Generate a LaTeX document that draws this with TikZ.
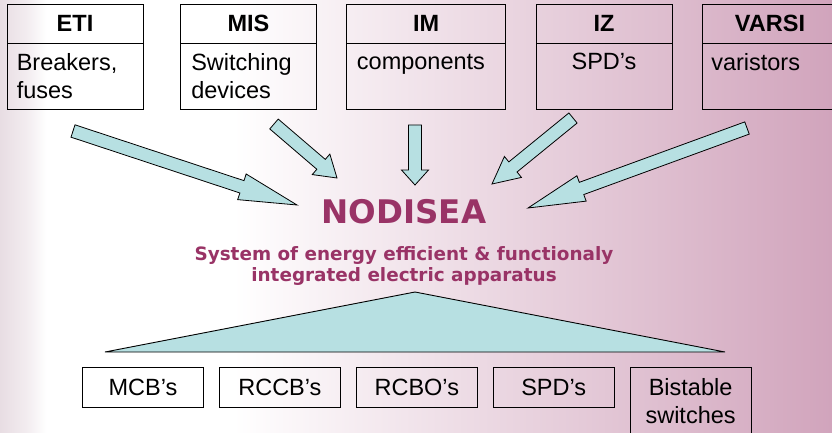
\documentclass[tikz,border=0pt]{standalone}
\usepackage{fontspec}
\setmainfont{Liberation Sans}
\newfontfamily\titlefont{DejaVu Sans}
\usetikzlibrary{calc,positioning}

\definecolor{arrowcyan}{RGB}{183,224,226}
\definecolor{titlepurple}{RGB}{153,51,102}
\definecolor{bgpink}{RGB}{209,164,188}
\definecolor{bgleft}{RGB}{232,221,227}

\pgfdeclarehorizontalshading{slidebg}{100bp}{color(0bp)=(bgleft); color(25bp)=(bgleft);
  color(26.6bp)=(bgleft!55!white); color(27.8bp)=(white); color(39bp)=(white);
  color(75bp)=(bgpink); color(100bp)=(bgpink)}

% block arrow: tail #1, tip #2, head length #3 (pt)
\newcommand{\fatarrow}[3]{%
  \coordinate (hbase) at ($(#2)!#3pt!(#1)$);
  \draw [fatarr] ($(#1)!6.5pt!90:(#2)$) -- ($(hbase)!6.5pt!90:(#2)$) -- ($(hbase)!13.5pt!90:(#2)$) -- (#2)
    -- ($(hbase)!13.5pt!-90:(#2)$) -- ($(hbase)!6.5pt!-90:(#2)$) -- ($(#1)!6.5pt!-90:(#2)$) -- cycle;
}

\begin{document}
\begin{tikzpicture}[x=1pt, y=-1pt,
    hdr/.style={draw, line width=0.9pt, minimum width=136pt, minimum height=39pt, inner sep=0pt,
      font=\fontsize{23.5}{28}\selectfont\bfseries},
    bbox/.style={draw, line width=0.9pt, minimum width=136pt, minimum height=66pt, inner sep=0pt},
    btxt/.style={inner sep=0pt, align=left, font=\fontsize{23.5}{28}\selectfont},
    item/.style={draw, line width=0.9pt, minimum width=121pt, minimum height=40pt, inner sep=0pt,
      align=center, font=\fontsize{23.5}{28}\selectfont},
    fatarr/.style={draw, line width=0.8pt, fill=arrowcyan, line join=miter},
    tri/.style={draw, line width=0.9pt, fill=arrowcyan}]

  \useasboundingbox (0,0) rectangle (832,433);
  \clip (0,0) rectangle (832,433);
  \shade [shading=slidebg] (0,0) rectangle (832,433);

  % top row
  \node [hdr] (eti) at (75,23.5) {ETI};
  \node [bbox, below=0pt of eti] (etib) {};
  \node [btxt, below right=9.5pt and 10pt of etib.north west] (etit) {Breakers,\\fuses};

  \node [hdr] (mis) at (248.5,23.5) {MIS};
  \node [bbox, below=0pt of mis] (misb) {};
  \node [btxt, below right=9.5pt and 11pt of misb.north west] (mist) {Switching\\devices};

  \node [hdr, minimum width=159pt] (im) at (426.2,23.5) {IM};
  \node [bbox, minimum width=159pt, below=0pt of im] (imb) {};
  \node [btxt, below right=9.5pt and 10.5pt of imb.north west] (imt) {\vphantom{B}components};

  \node [hdr] (iz) at (604,23.5) {IZ};
  \node [bbox, below=0pt of iz] (izb) {};
  \node [btxt, below=9.5pt of izb.north] (izt) {SPD’s};

  \node [hdr] (varsi) at (770,23.5) {VARSI};
  \node [bbox, below=0pt of varsi] (varsib) {};
  \node [btxt, below right=9.5pt and 9.5pt of varsib.north west] (varsit) {varistors};

  % centre
  \node [inner sep=0pt, text=titlepurple, font=\titlefont\fontsize{32.5}{36}\selectfont\bfseries]
    (nodisea) at (404,212) {NODISEA};
  \node [inner sep=0pt, text=titlepurple, align=center, below=22pt of nodisea,
    font=\titlefont\fontsize{18.4}{21}\selectfont\bfseries] (subtitle)
    {System of energy efficient \& functionaly\\integrated electric apparatus};

  % arrows
  \coordinate (t1) at (73,131);   \coordinate (h1) at (297,205);
  \coordinate (t2) at (274,124);  \coordinate (h2) at (337,178);
  \coordinate (t3) at (415,125);  \coordinate (h3) at (415,185);
  \coordinate (t4) at (573,118);  \coordinate (h4) at (492,184);
  \coordinate (t5) at (747,128);  \coordinate (h5) at (528,208);
  \fatarrow{t1}{h1}{58}
  \fatarrow{t2}{h2}{21}
  \fatarrow{t3}{h3}{15}
  \fatarrow{t4}{h4}{27}
  \fatarrow{t5}{h5}{57}

  % triangle
  \coordinate (apex) at (415,292);
  \coordinate (bl) at (105,352);
  \coordinate (br) at (725,352);
  \draw [tri] (bl) -- (apex) -- (br) -- cycle;

  % bottom row
  \node [item] (mcb) at (143,387) {MCB’s};
  \node [item, right=15pt of mcb] (rccb) {RCCB’s};
  \node [item, right=15pt of rccb] (rcbo) {RCBO’s};
  \node [item, right=15pt of rcbo] (spd) {SPD’s};
  \node [item, inner ysep=11pt, anchor=north west] (bist) at ($(spd.north east)+(15,0)$) {Bistable\\switches};
\end{tikzpicture}
\end{document}
